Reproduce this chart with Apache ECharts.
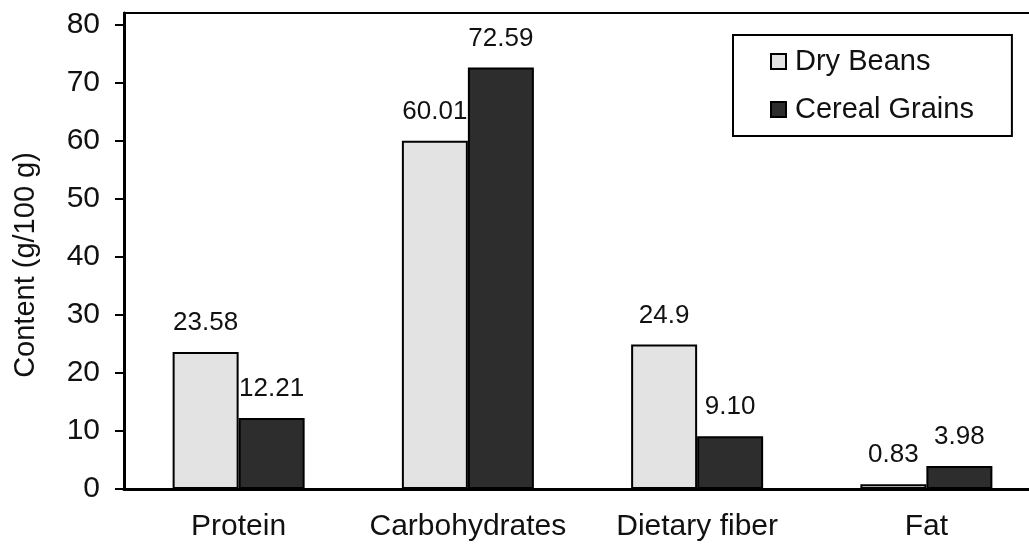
<!DOCTYPE html>
<html>
<head>
<meta charset="utf-8">
<script src="https://cdn.jsdelivr.net/npm/echarts@6/dist/echarts.min.js"></script>
<style>
  html, body { margin: 0; padding: 0; background: #fff; }
  #chart { width: 1029px; height: 548px; }
</style>
</head>
<body>
<div id="chart"></div>
<script>
const categories = ["Protein", "Carbohydrates", "Dietary fiber", "Fat"];
const dryBeans = [23.58, 60.01, 24.9, 0.83];
const cerealGrains = [12.21, 72.59, 9.10, 3.98];
const dryBeansLabels = ["23.58", "60.01", "24.9", "0.83"];
const cerealLabels = ["12.21", "72.59", "9.10", "3.98"];

document.addEventListener("DOMContentLoaded", function () {
    let chart = echarts.init(document.getElementById("chart"));
    const font = "Liberation Sans, Arial, sans-serif";

    let option = {
        animation: false,
        grid: { left: 124, right: -12, top: 13, bottom: 59, outerBoundsMode: "none", containLabel: false },
        legend: {
            orient: "vertical",
            left: 733,
            top: 35,
            padding: [12, 38, 12, 37],
            itemGap: 19,
            itemWidth: 15,
            itemHeight: 15,
            icon: "rect",
            borderColor: "#000",
            borderWidth: 2,
            data: ["Dry Beans", "Cereal Grains"],
            textStyle: { fontFamily: font, fontSize: 29, color: "#111", padding: [0, 0, 0, 4] }
        },
        xAxis: [
            {
                type: "category",
                data: categories,
                axisLine: { lineStyle: { color: "#000", width: 3 } },
                axisTick: { length: 9, lineStyle: { color: "#000", width: 2 } },
                axisLabel: { interval: 0, fontFamily: font, fontSize: 30, color: "#111", margin: 23 }
            },
            {
                // thin frame line along the top of the plot
                type: "category",
                position: "top",
                data: categories,
                axisLine: { lineStyle: { color: "#000", width: 2 } },
                axisTick: { show: false },
                axisLabel: { show: false }
            }
        ],
        yAxis: {
            type: "value",
            min: 0,
            max: 82,
            interval: 10,
            name: "Content (g/100 g)",
            nameLocation: "middle",
            nameGap: 84,
            nameTextStyle: { fontFamily: font, fontSize: 29, color: "#111", padding: [0, 28, 0, 0] },
            axisLine: { show: true, lineStyle: { color: "#000", width: 3 } },
            axisTick: { show: true, length: 9, lineStyle: { color: "#000", width: 2 } },
            axisLabel: { fontFamily: font, fontSize: 30, color: "#111", margin: 24, showMaxLabel: false },
            splitLine: { show: false }
        },
        series: [
            {
                name: "Dry Beans",
                type: "bar",
                data: dryBeans,
                barWidth: 66,
                barGap: "0%",
                itemStyle: { color: "#e3e3e3", borderColor: "#000", borderWidth: 2 },
                label: {
                    show: true,
                    position: "top",
                    distance: 16,
                    fontFamily: font,
                    fontSize: 26,
                    color: "#111",
                    formatter: p => dryBeansLabels[p.dataIndex]
                }
            },
            {
                name: "Cereal Grains",
                type: "bar",
                data: cerealGrains,
                barWidth: 66,
                barGap: "0%",
                itemStyle: { color: "#2d2d2d", borderColor: "#000", borderWidth: 2 },
                label: {
                    show: true,
                    position: "top",
                    distance: 16,
                    fontFamily: font,
                    fontSize: 26,
                    color: "#111",
                    formatter: p => cerealLabels[p.dataIndex]
                }
            }
        ]
    };
    chart.setOption(option);
});
</script>
</body>
</html>
